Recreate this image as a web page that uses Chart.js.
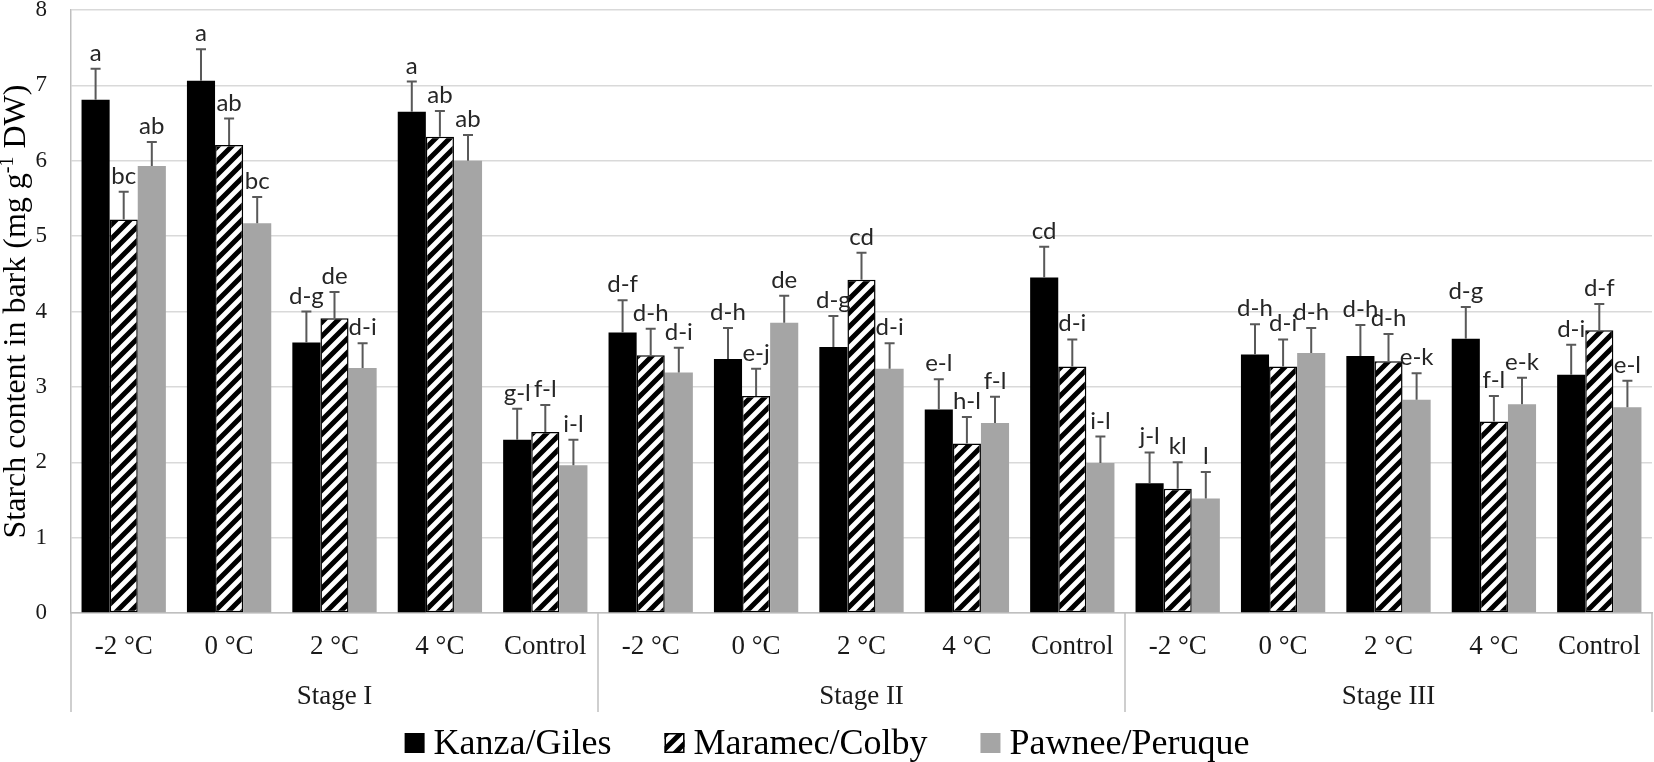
<!DOCTYPE html>
<html><head><meta charset="utf-8">
<script src="https://cdn.jsdelivr.net/npm/chart.js@4.4.1/dist/chart.umd.min.js"></script>
<style>html,body{margin:0;padding:0;background:#fff}#wrap{width:1654px;height:762px;position:relative}</style>
</head><body><div id="wrap"><canvas id="c"></canvas></div>
<script>
// ---- data ----
const stages = ['Stage I', 'Stage II', 'Stage III'];
const treatments = ['-2 °C', '0 °C', '2 °C', '4 °C', 'Control'];
const seriesNames = ['Kanza/Giles', 'Maramec/Colby', 'Pawnee/Peruque'];
const yTicks = [0, 1, 2, 3, 4, 5, 6, 7, 8];

const kanza   = [6.81, 7.06, 3.59, 6.65, 2.30, 3.72, 3.37, 3.53, 2.70, 4.45, 1.72, 3.43, 3.41, 3.64, 3.16];
const maramec = [5.22, 6.21, 3.91, 6.32, 2.40, 3.42, 2.88, 4.42, 2.25, 3.27, 1.65, 3.27, 3.34, 2.54, 3.75];
const pawnee  = [5.93, 5.17, 3.25, 6.00, 1.96, 3.19, 3.85, 3.24, 2.52, 1.99, 1.52, 3.45, 2.83, 2.77, 2.73];

const kanzaErr   = [0.41, 0.42, 0.41, 0.40, 0.41, 0.43, 0.41, 0.41, 0.40, 0.41, 0.41, 0.40, 0.41, 0.42, 0.40];
const maramecErr = [0.37, 0.35, 0.35, 0.34, 0.36, 0.35, 0.36, 0.36, 0.35, 0.36, 0.35, 0.36, 0.36, 0.34, 0.35];
const pawneeErr  = [0.32, 0.35, 0.33, 0.34, 0.34, 0.33, 0.36, 0.34, 0.35, 0.35, 0.35, 0.33, 0.35, 0.35, 0.35];

const kanzaLetters   = ['a','a','d-g','a','g-l','d-f','d-h','d-g','e-l','cd','j-l','d-h','d-h','d-g','d-i'];
const maramecLetters = ['bc','ab','de','ab','f-l','d-h','e-j','cd','h-l','d-i','kl','d-i','d-h','f-l','d-f'];
const pawneeLetters  = ['ab','bc','d-i','ab','i-l','d-i','de','d-i','f-l','i-l','l','d-h','e-k','e-k','e-l'];

// ---- derived ----
const labels = stages.flatMap(s => treatments.map(t => [t, s]));
const errs = [kanzaErr, maramecErr, pawneeErr];
const letters = [kanzaLetters, maramecLetters, pawneeLetters];

// hatch pattern
function makeHatch() {
  const pc = document.createElement('canvas');
  pc.width = 14; pc.height = 14;
  const g = pc.getContext('2d');
  g.fillStyle = '#fff'; g.fillRect(0, 0, 14, 14);
  g.strokeStyle = '#000'; g.lineWidth = 5;
  g.beginPath();
  for (const c of [0, 14, 28]) { g.moveTo(c + 4, -4); g.lineTo(-4, c + 4); }
  g.stroke();
  return g.createPattern(pc, 'repeat');
}
const hatch = makeHatch();
const colors = ['#000000', hatch, '#a5a5a5'];

const SERIF = "'Liberation Serif', 'Times New Roman', serif";
const TXT = '#1a1a1a';

const extras = {
  id: 'extras',
  afterDatasetsDraw(chart) {
    const ctx = chart.ctx, yS = chart.scales.y;
    ctx.save();
    chart.data.datasets.forEach((ds, di) => {
      const meta = chart.getDatasetMeta(di);
      meta.data.forEach((el, i) => {
        const yt = yS.getPixelForValue(ds.data[i] + errs[di][i]);
        ctx.strokeStyle = '#595959'; ctx.lineWidth = 2;
        ctx.beginPath();
        ctx.moveTo(el.x, el.y); ctx.lineTo(el.x, yt);
        ctx.moveTo(el.x - 5, yt); ctx.lineTo(el.x + 5, yt);
        ctx.stroke();
        ctx.fillStyle = '#262626';
        ctx.font = "24px Lato, 'Open Sans', sans-serif";
        ctx.textAlign = 'center'; ctx.textBaseline = 'alphabetic';
        ctx.fillText(letters[di][i], el.x, yt - 8);
      });
    });
    ctx.restore();
  },
  afterDraw(chart) {
    const ctx = chart.ctx, xS = chart.scales.x, ca = chart.chartArea;
    const cw = xS.getPixelForValue(1) - xS.getPixelForValue(0);
    ctx.save();
    // category labels
    ctx.fillStyle = TXT; ctx.textAlign = 'center'; ctx.textBaseline = 'middle';
    ctx.font = '27px ' + SERIF;
    labels.forEach((l, i) => ctx.fillText(l[0], xS.getPixelForValue(i), ca.bottom + 34));
    // stage labels + separators
    ctx.strokeStyle = '#bfbfbf'; ctx.lineWidth = 1.5;
    stages.forEach((s, si) => {
      const a = xS.getPixelForValue(si * treatments.length);
      const b = xS.getPixelForValue(si * treatments.length + treatments.length - 1);
      ctx.fillText(s, (a + b) / 2, ca.bottom + 84);
      const left = a - cw / 2, right = b + cw / 2;
      ctx.beginPath();
      ctx.moveTo(left, ca.bottom); ctx.lineTo(left, ca.bottom + 99);
      if (si === stages.length - 1) { ctx.moveTo(right, ca.bottom); ctx.lineTo(right, ca.bottom + 99); }
      ctx.stroke();
    });
    // y-axis title with superscript
    ctx.fillStyle = '#000';
    const p1 = 'Starch content in bark (mg g', sup = '-1', p2 = ' DW)';
    ctx.font = '32px ' + SERIF; const w1 = ctx.measureText(p1).width, w3 = ctx.measureText(p2).width;
    ctx.font = '20px ' + SERIF; const w2 = ctx.measureText(sup).width;
    const total = w1 + w2 + w3;
    ctx.translate(25, (ca.top + ca.bottom) / 2);
    ctx.rotate(-Math.PI / 2);
    ctx.textAlign = 'left'; ctx.textBaseline = 'alphabetic';
    let x = -total / 2;
    ctx.font = '32px ' + SERIF; ctx.fillText(p1, x, 0); x += w1;
    ctx.font = '20px ' + SERIF; ctx.fillText(sup, x, -12); x += w2;
    ctx.font = '32px ' + SERIF; ctx.fillText(p2, x, 0);
    ctx.setTransform(1, 0, 0, 1, 0, 0);
    ctx.restore();
    // legend
    ctx.save();
    const dpr = chart.currentDevicePixelRatio;
    ctx.setTransform(dpr, 0, 0, dpr, 0, 0);
    ctx.font = '36px ' + SERIF; ctx.textBaseline = 'alphabetic'; ctx.textAlign = 'left';
    const box = 20, gap = 9, itemGap = 53;
    const widths = seriesNames.map(n => ctx.measureText(n).width);
    const totalW = widths.reduce((s, w) => s + box + gap + w, 0) + itemGap * (seriesNames.length - 1);
    let lx = chart.width / 2 - totalW / 2;
    const by = 733, base = 754;
    seriesNames.forEach((n, i) => {
      ctx.fillStyle = colors[i];
      ctx.fillRect(lx, by, box, box);
      if (i === 1) { ctx.strokeStyle = '#000'; ctx.lineWidth = 1.5; ctx.strokeRect(lx + 0.75, by + 0.75, box - 1.5, box - 1.5); }
      ctx.fillStyle = '#000';
      ctx.fillText(n, lx + box + gap, base);
      lx += box + gap + widths[i] + itemGap;
    });
    ctx.restore();
  }
};

new Chart(document.getElementById('c'), {
  type: 'bar',
  data: {
    labels: labels,
    datasets: [
      { label: seriesNames[0], data: kanza, backgroundColor: colors[0], borderWidth: 0 },
      { label: seriesNames[1], data: maramec, backgroundColor: colors[1], borderColor: '#000', borderWidth: 1.5, borderSkipped: false },
      { label: seriesNames[2], data: pawnee, backgroundColor: colors[2], borderWidth: 0 }
    ]
  },
  options: {
    responsive: true, maintainAspectRatio: false, animation: false,
    datasets: { bar: { categoryPercentage: 0.8, barPercentage: 1.0 } },
    layout: { padding: { top: 10, right: 2, left: 0, bottom: 0 } },
    plugins: { legend: { display: false }, tooltip: { enabled: false }, title: { display: false } },
    scales: {
      x: {
        ticks: { display: false },
        grid: { display: false },
        border: { display: true, color: '#bfbfbf', width: 1.5 },
        afterFit(s) { s.height = 149; s.paddingLeft = 0; s.paddingRight = 0; }
      },
      y: {
        min: 0, max: 8,
        afterBuildTicks(s) { s.ticks = yTicks.map(v => ({ value: v })); },
        ticks: { padding: 24, color: TXT, font: { family: SERIF, size: 23 } },
        grid: { color: '#d9d9d9', lineWidth: 1.5, drawTicks: false },
        border: { display: true, color: '#bfbfbf', width: 1.5 },
        afterFit(s) { s.width = 71; s.paddingTop = 0; s.paddingBottom = 0; }
      }
    }
  },
  plugins: [extras]
});
</script></body></html>
